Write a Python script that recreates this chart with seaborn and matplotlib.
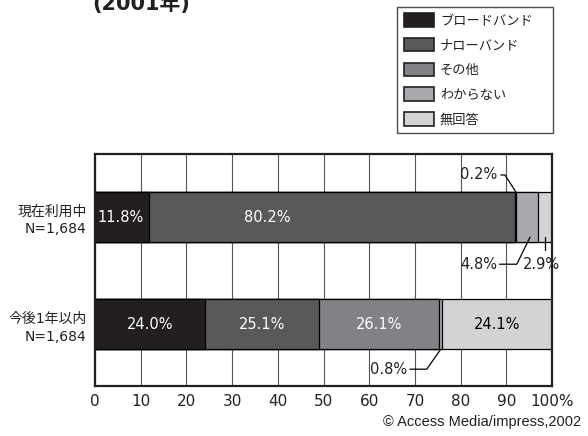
import numpy as np
import pandas as pd
import matplotlib
matplotlib.use("Agg")
import matplotlib.pyplot as plt
from matplotlib.patches import Patch
import seaborn as sns

# ---- data ----
categories = ["現在利用中\nN=1,684", "今後1年以内\nN=1,684"]
series_names = ["ブロードバンド", "ナローバンド", "その他", "わからない", "無回答"]
current_vals = [11.8, 80.2, 0.2, 4.8, 2.9]
future_vals = [24.0, 25.1, 26.1, 0.8, 24.1]
colors = ["#231f20", "#58595b", "#808285", "#a7a9ac", "#d1d3d4"]
x_ticks = [0, 10, 20, 30, 40, 50, 60, 70, 80, 90, 100]
x_tick_labels = ["0", "10", "20", "30", "40", "50", "60", "70", "80", "90", "100%"]

sns.set_theme(style="white")
plt.rcParams["font.family"] = ["DejaVu Sans", "Noto Sans CJK JP"]

fig = plt.figure(figsize=(5.88, 4.36), dpi=100)
ax = fig.add_axes([95 / 588, 50 / 436, 457 / 588, 232 / 436])

vals = np.array([current_vals, future_vals])
cum = np.cumsum(vals, axis=1)

# stacked bars: draw cumulative totals from the largest to the smallest
for i in range(len(series_names) - 1, -1, -1):
    df = pd.DataFrame({"cat": categories, "x": cum[:, i]})
    sns.barplot(data=df, x="x", y="cat", orient="h", color=colors[i],
                width=0.47, edgecolor="black", linewidth=0.9,
                saturation=1, ax=ax, zorder=2)

ax.set_xlim(0, 100)
ax.set_ylim(1.577, -0.589)
ax.set_axisbelow(True)
ax.set_xticks(x_ticks)
ax.set_xticklabels(x_tick_labels, fontsize=11, color="#231f20")
ax.grid(axis="x", color="#555555", linewidth=0.8, zorder=0)
ax.grid(axis="y", visible=False)
ax.set_xlabel("")
ax.set_ylabel("")
ax.tick_params(axis="x", length=0, pad=6)
ax.tick_params(axis="y", which="major", length=0, pad=6)
ax.set_yticks([0, 1])
ax.set_yticklabels(categories, fontsize=10, color="#231f20", linespacing=1.35)
ax.set_yticks([0.5], minor=True)
ax.tick_params(axis="y", which="minor", direction="in", length=5, width=1, color="black")
for s in ax.spines.values():
    s.set_color("#231f20")
    s.set_linewidth(1.6)

# in-bar labels
starts = cum - vals
text_colors = ["white", "white", "white", "black", "black"]
label_x_current = {0: starts[0, 0] + vals[0, 0] / 2 - 0.4, 1: 37.6}
for j, xv in label_x_current.items():
    ax.text(xv, 0, f"{vals[0, j]:.1f}%", ha="center", va="center",
            fontsize=10.5, color=text_colors[j], zorder=5)
for j in [0, 1, 2, 4]:
    ax.text(starts[1, j] + vals[1, j] / 2, 1, f"{vals[1, j]:.1f}%",
            ha="center", va="center", fontsize=10.5, color=text_colors[j], zorder=5)

# callout labels for the small segments
lw = 0.9
ax.text(88.0, -0.393, f"{vals[0, 2]:.1f}%", ha="right", va="center", fontsize=10.5, color="#231f20")
ax.plot([88.8, 89.7, 92.1], [-0.393, -0.393, -0.235], color="black", lw=lw, zorder=6)

ax.text(88.0, 0.44, f"{vals[0, 3]:.1f}%", ha="right", va="center", fontsize=10.5, color="#231f20")
ax.plot([88.5, 92.3, 95.2], [0.44, 0.44, 0.187], color="black", lw=lw, zorder=6)

ax.text(93.6, 0.44, f"{vals[0, 4]:.1f}%", ha="left", va="center", fontsize=10.5, color="#231f20")
ax.plot([98.5, 98.5], [0.308, 0.187], color="black", lw=lw, zorder=6)

ax.text(68.3, 1.42, f"{vals[1, 3]:.1f}%", ha="right", va="center", fontsize=10.5, color="#231f20")
ax.plot([68.9, 72.6, 75.5], [1.42, 1.42, 1.243], color="black", lw=lw, zorder=6)

# legend
handles = [Patch(facecolor=c, edgecolor="#231f20", linewidth=1.2) for c in colors]
leg = fig.legend(handles, series_names, loc="upper left",
                 bbox_to_anchor=(397 / 588, 1 - 7 / 436, 156 / 588, 0.001),
                 bbox_transform=fig.transFigure, mode="expand",
                 borderaxespad=0, fontsize=9.5, frameon=True, fancybox=False,
                 handlelength=2.3, handleheight=1.2, handletextpad=0.45,
                 labelspacing=0.8, borderpad=0.5)
leg.get_frame().set_edgecolor("#231f20")
leg.get_frame().set_linewidth(1.0)
for t in leg.get_texts():
    t.set_color("#231f20")

# title (partially cut at top) and copyright
fig.text(141 / 588, 1 - 10 / 436, "(2001年)", ha="center", va="baseline",
         fontsize=15, fontweight="bold", color="#231f20")
fig.text(581 / 588, 1 - 422 / 436, "© Access Media/impress,2002", ha="right", va="center",
         fontsize=10.5, family=["Liberation Sans", "DejaVu Sans"], color="#231f20")

fig.savefig("out.png", dpi=100)
